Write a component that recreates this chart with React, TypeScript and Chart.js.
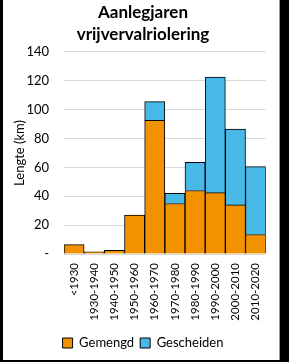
import React, { useEffect, useRef } from "react";
import { Chart, registerables } from "chart.js";

Chart.register(...registerables);

const categories = ["<1930", "1930-1940", "1940-1950", "1950-1960", "1960-1970", "1970-1980", "1980-1990", "1990-2000", "2000-2010", "2010-2020"];
const gemengd = [6.5, 1.5, 2.5, 27, 92.5, 35, 44, 42.5, 34, 13.5];
const gescheiden = [0, 0, 0, 0, 13, 7, 19.5, 80, 52.5, 47];
const titleLines = ["Aanlegjaren", "vrijvervalriolering"];
const yTitle = "Lengte (km)";
const seriesNames = ["Gemengd", "Gescheiden"];

const FONT = "Lato, 'Open Sans', sans-serif";

export default function App() {
  const ref = useRef<HTMLCanvasElement | null>(null);
  useEffect(() => {
    document.body.style.margin = "0";
    const ctx = ref.current!;
    const chart = new Chart(ctx, {
      type: "bar",
      data: {
        labels: categories,
        datasets: [
          { label: seriesNames[0], data: gemengd, backgroundColor: "#F39200", borderColor: "#000000", borderWidth: 1, barPercentage: 1, categoryPercentage: 1 },
          { label: seriesNames[1], data: gescheiden, backgroundColor: "#48B8E6", borderColor: "#000000", borderWidth: 1, barPercentage: 1, categoryPercentage: 1 },
        ],
      },
      options: {
        animation: false,
        responsive: false,
        maintainAspectRatio: false,
        layout: { padding: { left: 16, right: 12, top: 2, bottom: 0.5 } },
        plugins: {
          title: { display: true, text: titleLines, color: "#000", font: { family: FONT, size: 17, weight: "bold", lineHeight: 1.29 }, padding: { top: 0, bottom: 6 } },
          legend: {
            position: "bottom",
            labels: { color: "#000", font: { family: FONT, size: 13 }, boxWidth: 10, boxHeight: 10, padding: 6 },
          },
          tooltip: { enabled: false },
        },
        scales: {
          x: {
            stacked: true,
            grid: { display: false, drawTicks: false },
            border: { display: false },
            ticks: { color: "#000", font: { family: FONT, size: 11.5 }, minRotation: 90, maxRotation: 90, padding: 9, autoSkip: false },
            afterFit: (s: any) => { s.height = 76.5; },
          },
          y: {
            stacked: true,
            min: 0,
            max: 140,
            grid: { color: "#d9d9d9", drawTicks: false },
            border: { display: false },
            ticks: { stepSize: 20, color: "#000", font: { family: FONT, size: 13 }, padding: 15, callback: (v: any) => (v === 0 ? "-" : String(v)) },
            title: { display: true, text: yTitle, color: "#000", font: { family: FONT, size: 13 }, padding: { top: -7, bottom: 0 } },
            afterFit: (s: any) => { s.width = 45; },
          },
        },
      },
    });
    return () => chart.destroy();
  }, []);
  return (
    <div style={{ position: "relative", width: 289, height: 362, background: "#000" }}>
      <div style={{ position: "absolute", left: 3, top: 0, width: 276, height: 360, background: "#fff", borderRight: "1px solid #999" }}>
        <canvas ref={ref} width={276} height={360} style={{ display: "block" }} />
      </div>
    </div>
  );
}
